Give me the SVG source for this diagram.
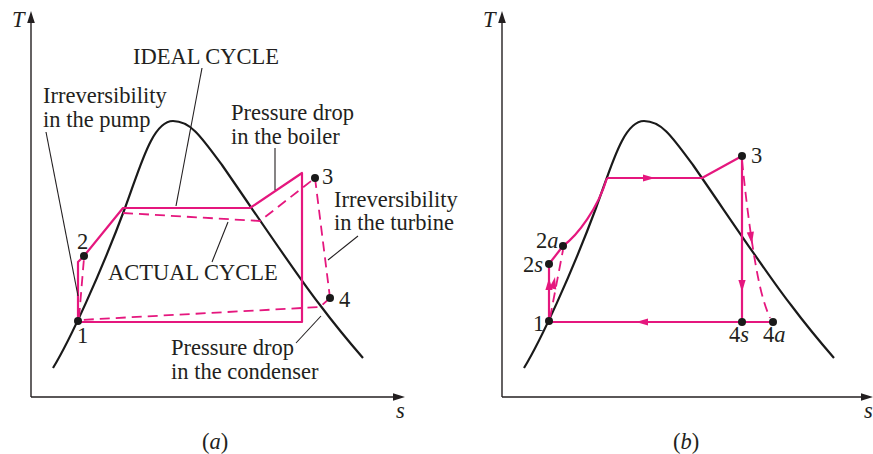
<svg xmlns="http://www.w3.org/2000/svg" xmlns:xlink="http://www.w3.org/1999/xlink" width="873" height="454" viewBox="0 0 873 454">
<style>
text{font-family:"Liberation Serif","Times New Roman",serif;font-size:22.5px;fill:#231f20}
.it{font-style:italic}
.ax{stroke:#231f20;stroke-width:1.4;fill:none}
.dome{stroke:#1a1a1a;stroke-width:2.2;fill:none}
.lead{stroke:#231f20;stroke-width:1.1;fill:none}
.p{stroke:#e5177e;stroke-width:2.2;fill:none;stroke-linejoin:round}
.pd{stroke:#e5177e;stroke-width:1.8;fill:none;stroke-dasharray:10 6}
.dot{fill:#1a1a1a}
.ah{fill:#e5177e}
.axh{fill:#231f20}
</style>
<defs>
<path id="dome" d="M53,368 C70,340 100,275 125,208 C140,168 152,121 173,121 C190,121 200,135 222,165 C260,220 300,280 320,305 C335,325 350,343 363,358"/>
<path id="arr" d="M0,0 L-12,-3.6 L-12,3.6 Z"/>
<path id="axarr" d="M0,0 L-12,-3.8 L-12,3.8 Z"/>
</defs>

<g id="panel-a">
  <g id="axes-a">
    <line class="ax" x1="31" y1="397" x2="31" y2="20"/>
    <use href="#axarr" class="axh" transform="translate(31,11) rotate(-90)"/>
    <line class="ax" x1="31" y1="397" x2="396" y2="397"/>
    <use href="#axarr" class="axh" transform="translate(405,397)"/>
    <text class="it" x="12" y="27">T</text>
    <text class="it" x="396" y="418">s</text>
    <text x="202" y="449">(<tspan class="it">a</tspan>)</text>
  </g>
  <use href="#dome" class="dome"/>
  <g id="ideal-a">
    <polyline class="p" points="78,321 78,262 84,256 123,208 250,208 302,173 302,322 78,322"/>
  </g>
  <g id="actual-a">
    <line class="pd" x1="79" y1="318" x2="84" y2="258"/>
    <polyline class="pd" points="123,213 260,221 315,178"/>
    <line class="pd" x1="315" y1="178" x2="330" y2="298"/>
    <polyline class="pd" points="330,298 320,307 80,320"/>
  </g>
  <g id="points-a">
    <circle class="dot" cx="78" cy="321" r="4"/>
    <circle class="dot" cx="84" cy="256" r="4"/>
    <circle class="dot" cx="315" cy="178" r="4"/>
    <circle class="dot" cx="330" cy="298" r="4"/>
  </g>
  <g id="leaders-a">
    <line class="lead" x1="202" y1="68" x2="176" y2="206"/>
    <line class="lead" x1="46" y1="132" x2="78" y2="296"/>
    <line class="lead" x1="275" y1="148" x2="275" y2="190"/>
    <line class="lead" x1="358" y1="236" x2="328" y2="260"/>
    <line class="lead" x1="212" y1="262" x2="228" y2="222"/>
    <line class="lead" x1="296" y1="343" x2="321" y2="316"/>
  </g>
  <g id="labels-a">
    <text x="133" y="64">IDEAL CYCLE</text>
    <text x="43" y="103">Irreversibility</text>
    <text x="43" y="127">in the pump</text>
    <text x="231" y="120">Pressure drop</text>
    <text x="231" y="144">in the boiler</text>
    <text x="322" y="184">3</text>
    <text x="334" y="207">Irreversibility</text>
    <text x="334" y="230">in the turbine</text>
    <text x="77" y="249">2</text>
    <text x="108" y="280">ACTUAL CYCLE</text>
    <text x="339" y="307">4</text>
    <text x="77" y="343">1</text>
    <text x="171" y="355">Pressure drop</text>
    <text x="171" y="379">in the condenser</text>
  </g>
</g>

<g id="panel-b">
  <g id="axes-b">
    <line class="ax" x1="502" y1="397" x2="502" y2="20"/>
    <use href="#axarr" class="axh" transform="translate(502,11) rotate(-90)"/>
    <line class="ax" x1="502" y1="397" x2="864" y2="397"/>
    <use href="#axarr" class="axh" transform="translate(873,397)"/>
    <text class="it" x="483" y="27">T</text>
    <text class="it" x="864" y="418">s</text>
    <text x="673" y="449">(<tspan class="it">b</tspan>)</text>
  </g>
  <use href="#dome" class="dome" transform="translate(471,0)"/>
  <g id="ideal-b">
    <line class="p" x1="549" y1="321" x2="549" y2="264"/>
    <line class="p" x1="549" y1="264" x2="563" y2="246"/>
    <path class="p" d="M563,246 C578,235 598,208 607,178"/>
    <polyline class="p" points="607,178 702,178 742,156 742,322"/>
    <line class="p" x1="773" y1="322" x2="549" y2="322"/>
  </g>
  <g id="actual-b">
    <line class="pd" x1="550" y1="318" x2="563" y2="250"/>
    <path class="pd" d="M742,160 C746,200 750,230 754,255 C759,285 763,302 770,318"/>
  </g>
  <g id="arrows-b">
    <use href="#arr" class="ah" transform="translate(549,278) rotate(-90)"/>
    <use href="#arr" class="ah" transform="translate(555,277) rotate(-79)"/>
    <use href="#arr" class="ah" transform="translate(655,178)"/>
    <use href="#arr" class="ah" transform="translate(742,292) rotate(90)"/>
    <use href="#arr" class="ah" transform="translate(752,244) rotate(82)"/>
    <use href="#arr" class="ah" transform="translate(636,322) rotate(180)"/>
  </g>
  <g id="points-b">
    <circle class="dot" cx="549" cy="321" r="4"/>
    <circle class="dot" cx="549" cy="264" r="4"/>
    <circle class="dot" cx="563" cy="246" r="4"/>
    <circle class="dot" cx="742" cy="156" r="4"/>
    <circle class="dot" cx="742" cy="322" r="4"/>
    <circle class="dot" cx="773" cy="322" r="4"/>
  </g>
  <g id="labels-b">
    <text x="751" y="163">3</text>
    <text x="536" y="248">2<tspan class="it">a</tspan></text>
    <text x="523" y="272">2<tspan class="it">s</tspan></text>
    <text x="533" y="331">1</text>
    <text x="729" y="342">4<tspan class="it">s</tspan></text>
    <text x="763" y="342">4<tspan class="it">a</tspan></text>
  </g>
</g>
</svg>
